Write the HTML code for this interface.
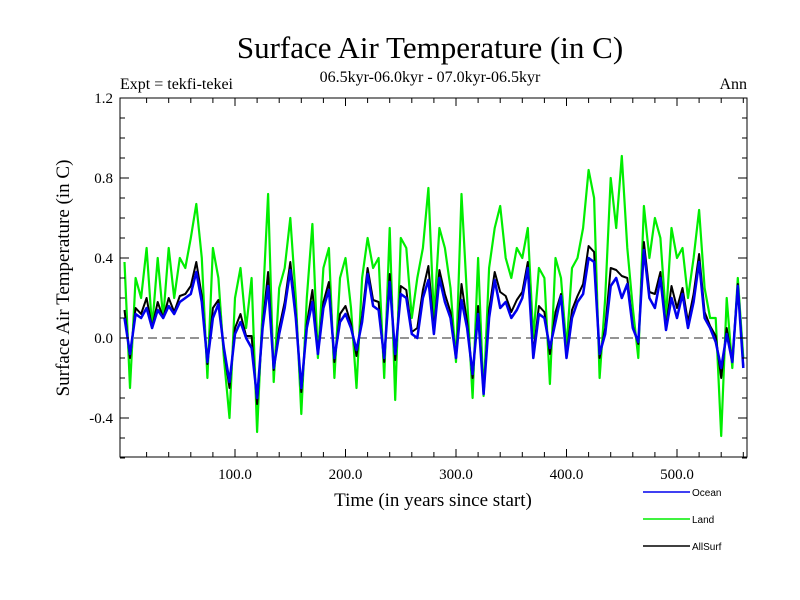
<!DOCTYPE html>
<html><head><meta charset="utf-8"><style>
body{margin:0;background:#fff}
svg{display:block}
text{font-family:"Liberation Serif",serif;fill:#000}
</style></head><body>
<svg id="chart" width="800" height="600">
<text x="430" y="58" font-size="31" text-anchor="middle">Surface Air Temperature (in C)</text>
<text x="430" y="82" font-size="16" text-anchor="middle">06.5kyr-06.0kyr - 07.0kyr-06.5kyr</text>
<text x="120" y="89" font-size="16">Expt = tekfi-tekei</text>
<text x="747" y="89" font-size="16" text-anchor="end">Ann</text>
<text transform="translate(69,278) rotate(-90)" font-size="19" text-anchor="middle">Surface Air Temperature (in C)</text>
<text x="433" y="506" font-size="19" text-anchor="middle">Time (in years since start)</text>
<g id="plot"></g>
<g id="legend"></g>
</svg>
<script>
const years=[];for(let y=0;y<=560;y+=5)years.push(y);
const ocean=[0.10,-0.08,0.12,0.10,0.15,0.05,0.14,0.10,0.16,0.12,0.18,0.20,0.22,0.33,0.18,-0.12,0.10,0.17,-0.05,-0.22,0.02,0.08,0.00,-0.05,-0.30,0.05,0.26,-0.15,0.02,0.15,0.34,0.10,-0.25,0.05,0.18,-0.08,0.15,0.24,-0.10,0.08,0.12,0.05,-0.06,0.08,0.32,0.16,0.14,-0.10,0.28,-0.08,0.22,0.20,0.02,0.00,0.20,0.29,0.02,0.30,0.18,0.10,-0.10,0.19,0.05,-0.18,0.12,-0.28,0.10,0.29,0.15,0.18,0.10,0.14,0.20,0.35,-0.10,0.12,0.10,-0.05,0.08,0.21,-0.10,0.10,0.18,0.22,0.40,0.38,-0.08,0.02,0.26,0.30,0.20,0.27,0.05,-0.02,0.44,0.20,0.15,0.30,0.04,0.20,0.10,0.22,0.05,0.18,0.38,0.10,0.05,-0.02,-0.15,0.02,-0.12,0.26,-0.15];
const land=[0.38,-0.25,0.30,0.20,0.45,0.05,0.40,0.10,0.45,0.20,0.40,0.35,0.50,0.67,0.40,-0.20,0.45,0.30,-0.10,-0.40,0.20,0.35,0.05,0.30,-0.47,0.15,0.72,-0.22,0.25,0.35,0.60,0.20,-0.38,0.20,0.57,-0.10,0.35,0.45,-0.20,0.30,0.40,0.15,-0.25,0.30,0.50,0.35,0.40,-0.20,0.55,-0.31,0.50,0.45,0.10,0.30,0.45,0.75,0.10,0.55,0.45,0.25,-0.12,0.72,0.20,-0.30,0.40,-0.29,0.35,0.55,0.66,0.40,0.30,0.45,0.40,0.55,0.00,0.35,0.30,-0.23,0.40,0.30,-0.05,0.35,0.40,0.55,0.84,0.70,-0.20,0.20,0.80,0.55,0.91,0.45,0.15,-0.10,0.66,0.40,0.60,0.50,0.10,0.55,0.40,0.45,0.20,0.40,0.64,0.25,0.10,0.10,-0.49,0.20,-0.15,0.30,-0.10];
const allsurf=[0.14,-0.10,0.15,0.12,0.20,0.05,0.18,0.10,0.20,0.13,0.21,0.22,0.26,0.38,0.21,-0.13,0.15,0.19,-0.06,-0.25,0.05,0.12,0.01,0.01,-0.33,0.06,0.33,-0.16,0.05,0.18,0.38,0.12,-0.27,0.07,0.24,-0.08,0.18,0.28,-0.12,0.12,0.16,0.07,-0.09,0.11,0.35,0.19,0.18,-0.12,0.32,-0.11,0.26,0.24,0.03,0.05,0.24,0.36,0.04,0.34,0.22,0.13,-0.10,0.27,0.08,-0.20,0.16,-0.28,0.14,0.33,0.23,0.21,0.13,0.19,0.23,0.38,-0.08,0.16,0.13,-0.08,0.13,0.22,-0.09,0.14,0.21,0.27,0.46,0.43,-0.10,0.05,0.35,0.34,0.31,0.30,0.06,-0.03,0.48,0.23,0.22,0.33,0.05,0.26,0.15,0.25,0.08,0.22,0.42,0.13,0.06,0.01,-0.20,0.05,-0.12,0.27,-0.14];
const yTicks=[-0.4,0.0,0.4,0.8,1.2];
const yTickLabels=["-0.4","0.0","0.4","0.8","1.2"];
const xTicks=[100,200,300,400,500];
const xTickLabels=["100.0","200.0","300.0","400.0","500.0"];
const seriesNames=["Ocean","Land","AllSurf"];

const L=120,R=747,T=98,B=457;
const sx=v=>124.5+v*1.105;
const sy=v=>338-v*200;
const NS="http://www.w3.org/2000/svg";
const plot=document.getElementById('plot');
function mk(tag,attrs,parent){const e=document.createElementNS(NS,tag);for(const k in attrs)e.setAttribute(k,attrs[k]);parent.appendChild(e);return e;}
const cp=mk('clipPath',{id:'clip'},plot);mk('rect',{x:L,y:T,width:R-L,height:B-T},cp);
const z=mk('line',{x1:L,x2:R,y1:sy(0),y2:sy(0),stroke:'#555','stroke-dasharray':'9,5','stroke-width':1.2},plot);


function series(vals,color,name,w){
  const d=vals.map((v,i)=>(i?'L':'M')+sx(years[i]).toFixed(1)+','+sy(v).toFixed(1)).join('');
  const p=mk('path',{d:d,fill:'none',stroke:color,'stroke-width':w,'clip-path':'url(#clip)','stroke-linejoin':'round'},plot);
  
  
}
series(land,'#00ee00','land-series',2.2);
series(allsurf,'#000','allsurf-series',2);
series(ocean,'#0000ee','ocean-series',2.5);
const fr=mk('rect',{x:L,y:T,width:R-L,height:B-T,fill:'none',stroke:'#000','stroke-width':1},plot);


for(let v=-0.6;v<=1.2001;v+=0.1){const y=sy(v);mk('line',{x1:L,x2:L+5,y1:y,y2:y,stroke:'#000'},plot);mk('line',{x1:R,x2:R-5,y1:y,y2:y,stroke:'#000'},plot);}
yTicks.forEach((v,i)=>{const y=sy(v);mk('line',{x1:L,x2:L+9,y1:y,y2:y,stroke:'#000'},plot);mk('line',{x1:R,x2:R-9,y1:y,y2:y,stroke:'#000'},plot);
  const t=mk('text',{x:L-7,y:y+5,'font-size':15,'text-anchor':'end'},plot);t.textContent=yTickLabels[i];
  
  });
for(let v=20;v<=560;v+=20){const x=sx(v);if(x>R)break;mk('line',{x1:x,x2:x,y1:B,y2:B-5,stroke:'#000'},plot);mk('line',{x1:x,x2:x,y1:T,y2:T+5,stroke:'#000'},plot);}
xTicks.forEach((v,i)=>{const x=sx(v);mk('line',{x1:x,x2:x,y1:B,y2:B-8,stroke:'#000'},plot);mk('line',{x1:x,x2:x,y1:T,y2:T+8,stroke:'#000'},plot);
  const t=mk('text',{x:x,y:B+22,'font-size':15,'text-anchor':'middle'},plot);t.textContent=xTickLabels[i];
  
  });
const lg=document.getElementById('legend');const cols=['#0000ee','#00ee00','#000'];
seriesNames.forEach((n,i)=>{const y=492+i*27;
  const l=mk('line',{x1:643,x2:690,y1:y,y2:y,stroke:cols[i],'stroke-width':1.5},lg);
  
  
  const t=mk('text',{x:692,y:y+4,'font-size':10,style:'font-family:"Liberation Sans",sans-serif'},lg);t.textContent=n;
  
  });
</script>
</body></html>
